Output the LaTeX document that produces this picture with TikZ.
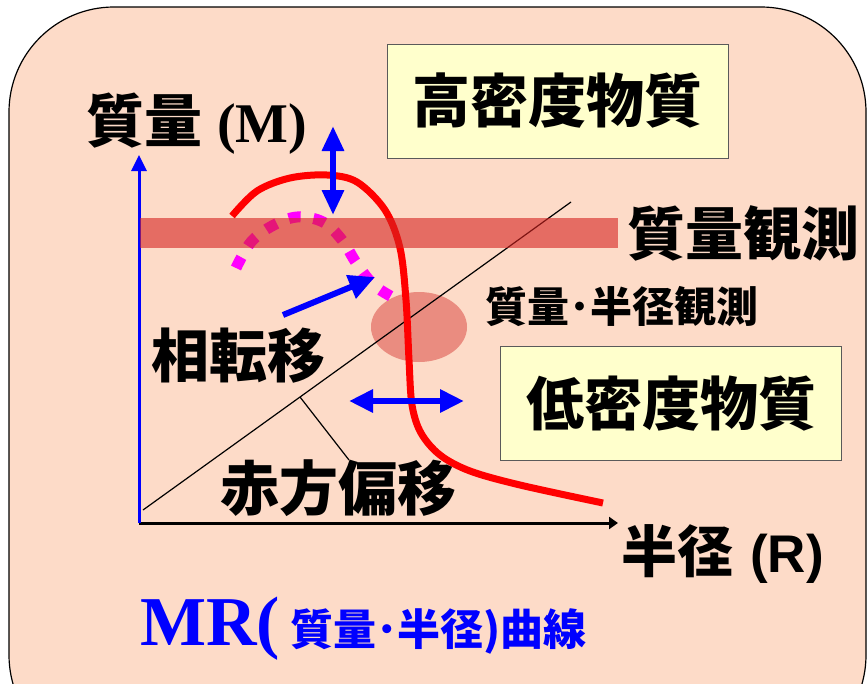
\documentclass[tikz,border=0pt]{standalone}
\usepackage{fontspec}
\setmainfont{Liberation Serif}
\newfontfamily\cjk{Noto Sans CJK JP}
\newfontfamily\arialb{Liberation Sans}
\usetikzlibrary{arrows.meta,shapes.geometric}
\definecolor{peach}{RGB}{253,219,200}
\definecolor{boxyellow}{RGB}{255,255,204}
\definecolor{bandred}{RGB}{213,35,33}
\definecolor{ellred}{RGB}{234,140,128}
\definecolor{dotmag}{RGB}{255,0,255}
\definecolor{boxgray}{RGB}{90,90,90}
\begin{document}
\begin{tikzpicture}[x=1pt,y=-1pt,
  jp/.style={font=\cjk\bfseries\fontsize{#1}{#1}\selectfont, inner sep=0pt},
  densbox/.style={draw=boxgray, line width=1pt, fill=boxyellow, minimum width=341pt, minimum height=114pt, inner sep=0pt, font=\cjk\bfseries\fontsize{58}{58}\selectfont},
  bluearrow/.style={blue, line width=6pt}
]
\useasboundingbox (0,0) rectangle (867,683);
% background panel
\fill[peach, draw=black, line width=1.2pt, rounded corners=105pt] (9,7) rectangle (866,760);

% ellipse (mass-radius observation)
\node[ellipse, fill=ellred, minimum width=96pt, minimum height=70pt, inner sep=0pt] (ell) at (419,327) {};

% axes
\coordinate (O) at (139,523);
\coordinate (ytop) at (139,155);
\coordinate (xend) at (618,523);
\draw[black, line width=3pt, -{Triangle[length=9pt,width=12pt]}] (O) -- (xend);
\draw[blue, line width=3pt, -{Triangle[length=16pt,width=15pt]}] (O) -- (ytop);

% diagonal (redshift) line and leader
\coordinate (d0) at (143,510);
\coordinate (d1) at (571,202);
\draw[black, line width=1.2pt] (d0) -- (d1);
\coordinate (lp) at (300,397);
\coordinate (lq) at (349,460);
\draw[black, line width=1.2pt] (lp) -- (lq);

% red MR curve
\draw[red, line width=7pt] plot[smooth, tension=0.55] coordinates {
 (232,216) (257,191) (290,178) (327,175) (357,182) (385,210) (400,248) (406,300)
 (409,360) (412,405) (421,433) (440,455) (470,471) (520,485) (603,503)};

% magenta dotted arc (phase transition)
\draw[dotmag, line width=11pt, dash pattern=on 12pt off 13pt] plot[smooth, tension=0.6] coordinates {
 (236,268) (251,242) (272,226) (297,217) (323,222) (342,240) (357,264) (375,286) (398,300)};

% mass observation band
\node[fill=bandred, opacity=0.6, minimum width=478pt, minimum height=30pt, inner sep=0pt, anchor=west] (band) at (140,233) {};

% blue arrows
\coordinate (pt0) at (283,315);
\coordinate (pt1) at (375,277);
\draw[bluearrow, -{Triangle[length=26pt,width=24pt]}] (pt0) -- (pt1);
\coordinate (v0) at (333,126);
\coordinate (v1) at (333,215);
\draw[bluearrow, {Triangle[length=25pt,width=21pt]}-{Triangle[length=25pt,width=21pt]}] (v0) -- (v1);
\coordinate (h0) at (349,401);
\coordinate (h1) at (464,401);
\draw[bluearrow, {Triangle[length=24pt,width=22pt]}-{Triangle[length=24pt,width=22pt]}] (h0) -- (h1);

% boxes
\node[densbox] (high) at (557.5,101) {高密度物質};
\node[densbox] (low) at (671,403.5) {低密度物質};

% labels
\node[anchor=base west, inner sep=0pt] (ylabel) at (86,142) {{\cjk\bfseries\fontsize{58}{58}\selectfont 質量}\hspace{15pt}{\bfseries\fontsize{56}{56}\selectfont (M)}};
\node[jp=58] (massobs) at (743,233) {質量観測};
\node[jp=42] (mrobs) at (622,307) {質量･半径観測};
\node[jp=58] (phase) at (238,356) {相転移};
\node[jp=59] (redshift) at (338,488) {赤方偏移};
\node[anchor=base west, inner sep=0pt] (xlabel) at (621,572) {{\cjk\bfseries\fontsize{56}{56}\selectfont 半径}\hspace{17pt}{\arialb\bfseries\fontsize{53}{53}\selectfont (R)}};
\node[anchor=base west, inner sep=0pt, text=blue] (caption) at (140,645) {{\bfseries\fontsize{70}{72}\selectfont MR(}\hspace{10pt}{\cjk\bfseries\fontsize{43}{43}\selectfont 質量･半径)曲線}};
\end{tikzpicture}
\end{document}
